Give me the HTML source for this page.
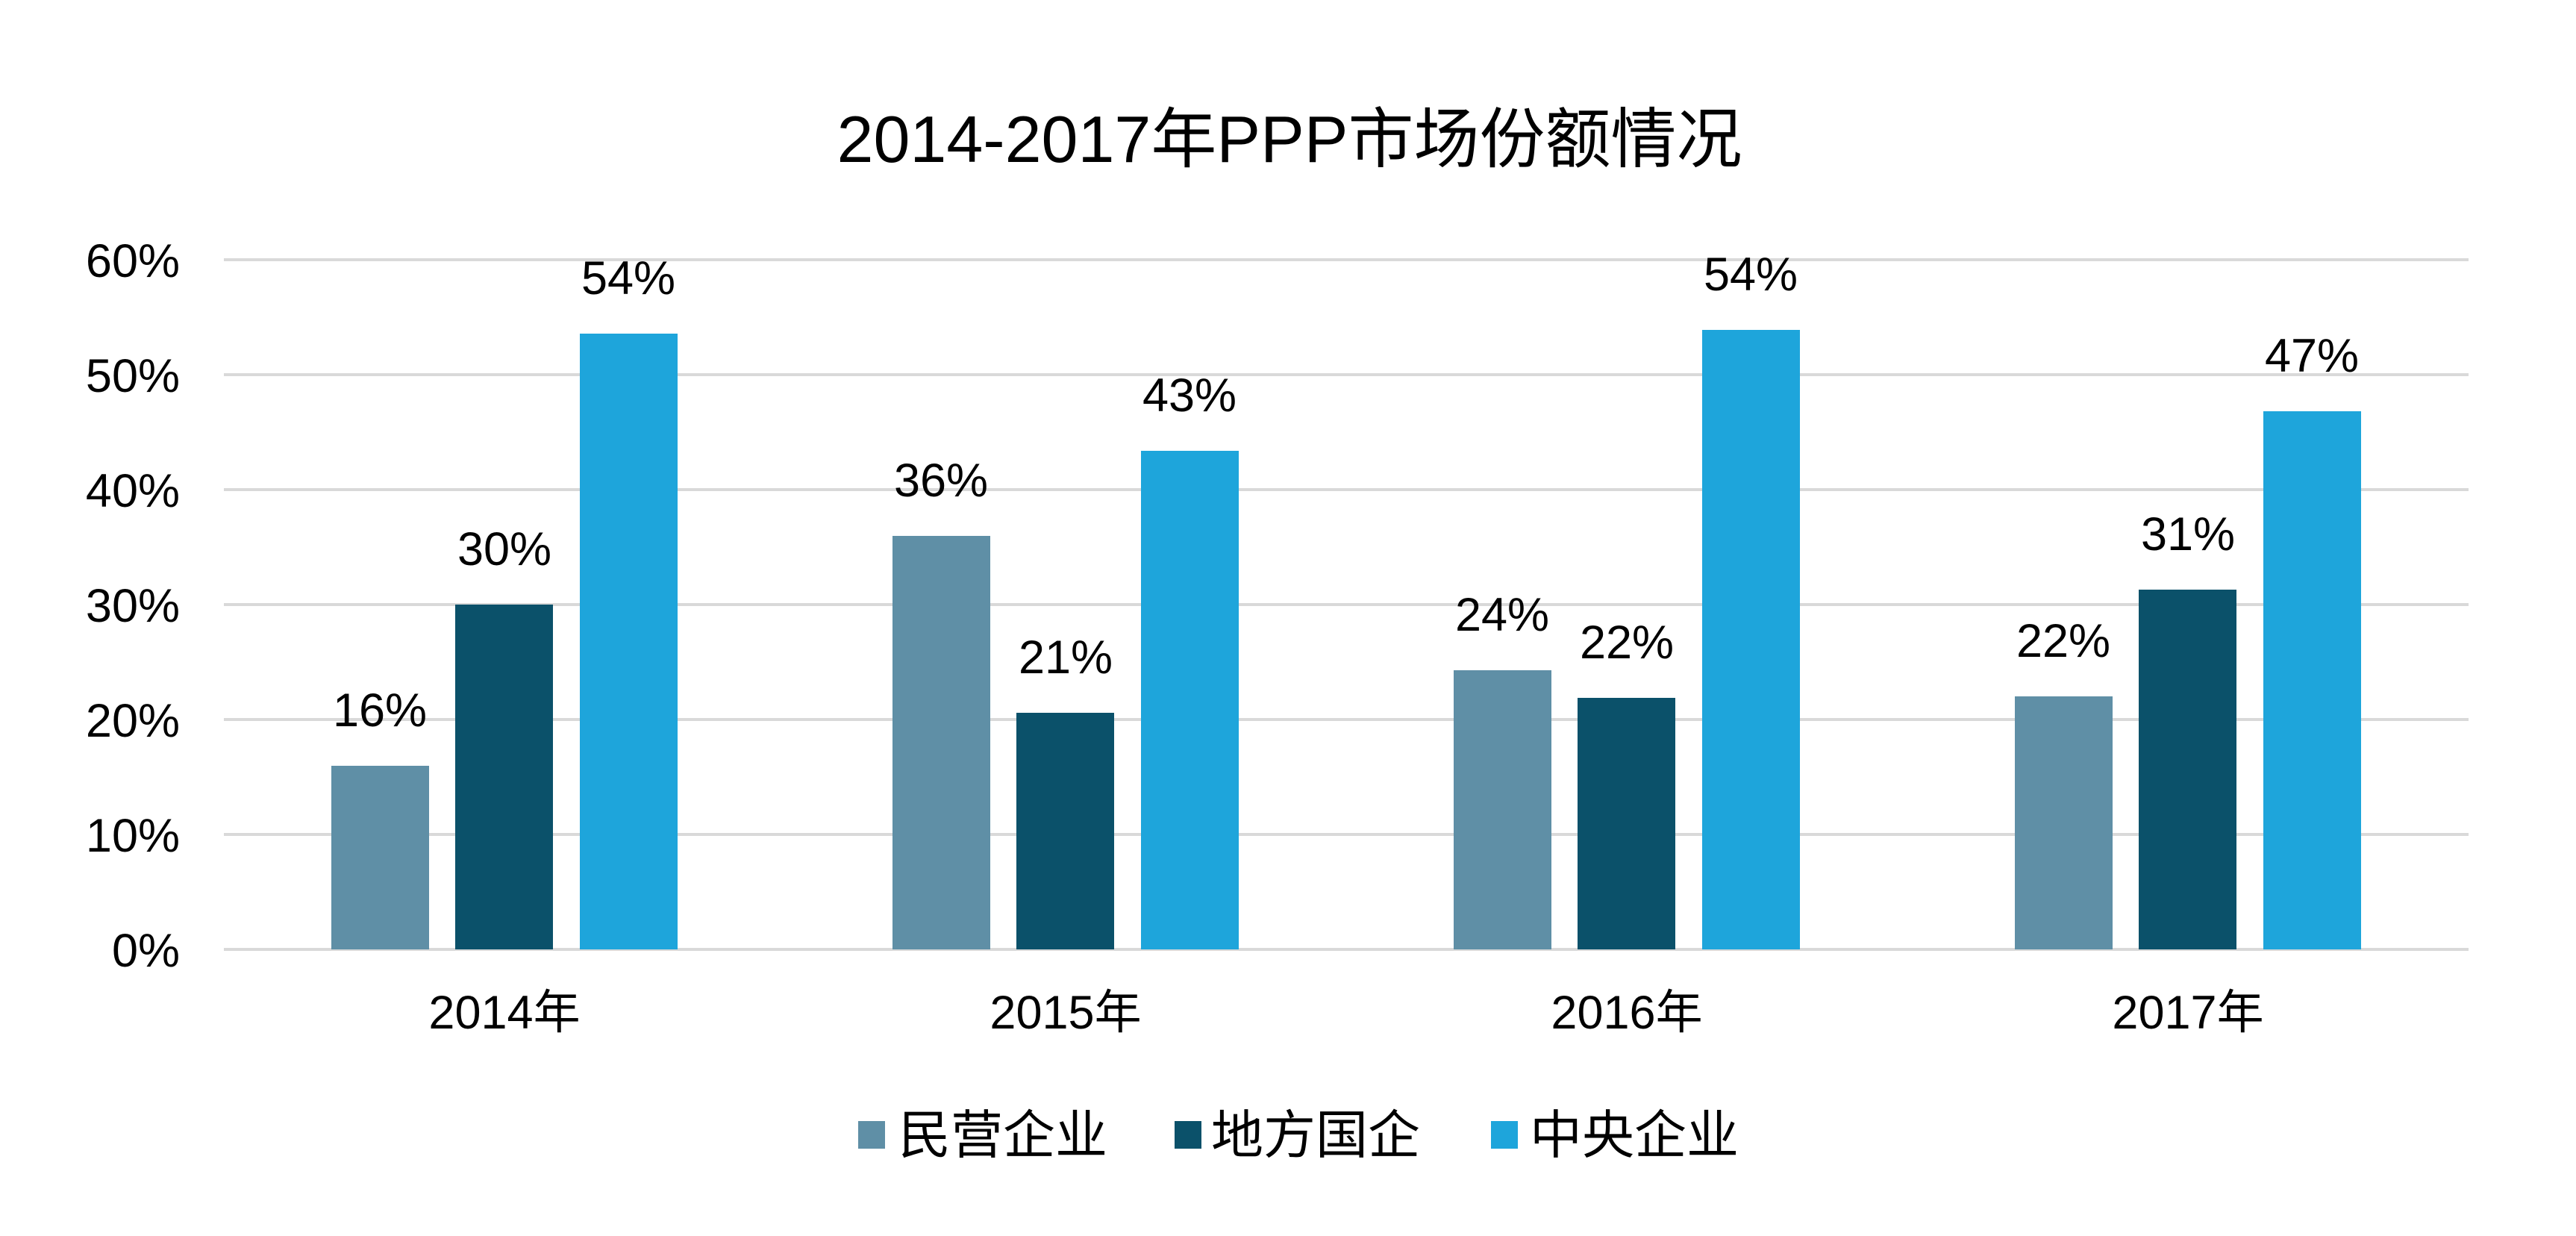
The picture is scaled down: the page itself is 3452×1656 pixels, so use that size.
<!DOCTYPE html>
<html><head><meta charset="utf-8"><style>
html,body{margin:0;padding:0;background:#fff;}
svg{display:block;}
text{font-family:"Liberation Sans","Noto Sans CJK SC",sans-serif;fill:#000;}
</style></head><body>
<svg width="3452" height="1656" viewBox="0 0 3452 1656" xmlns="http://www.w3.org/2000/svg">
<rect width="3452" height="1656" fill="#fff"/>
<text x="1728" y="217" font-size="88" text-anchor="middle">2014-2017年PPP市场份额情况</text>
<g stroke="#d9d9d9" stroke-width="4">
<line x1="300" x2="3308" y1="348" y2="348"/>
<line x1="300" x2="3308" y1="502" y2="502"/>
<line x1="300" x2="3308" y1="656" y2="656"/>
<line x1="300" x2="3308" y1="810" y2="810"/>
<line x1="300" x2="3308" y1="964" y2="964"/>
<line x1="300" x2="3308" y1="1118" y2="1118"/>
<line x1="300" x2="3308" y1="1272" y2="1272"/>
</g>
<g font-size="63" text-anchor="end">
<text x="241" y="371">60%</text>
<text x="241" y="525">50%</text>
<text x="241" y="679">40%</text>
<text x="241" y="833">30%</text>
<text x="241" y="987">20%</text>
<text x="241" y="1141">10%</text>
<text x="241" y="1295">0%</text>
</g>
<g>
<rect x="444" y="1026" width="131" height="246" fill="#5f8fa6"/>
<rect x="610" y="810" width="131" height="462" fill="#0b516a"/>
<rect x="777" y="447" width="131" height="825" fill="#1ea5db"/>
<rect x="1196" y="718" width="131" height="554" fill="#5f8fa6"/>
<rect x="1362" y="955" width="131" height="317" fill="#0b516a"/>
<rect x="1529" y="604" width="131" height="668" fill="#1ea5db"/>
<rect x="1948" y="898" width="131" height="374" fill="#5f8fa6"/>
<rect x="2114" y="935" width="131" height="337" fill="#0b516a"/>
<rect x="2281" y="442" width="131" height="830" fill="#1ea5db"/>
<rect x="2700" y="933" width="131" height="339" fill="#5f8fa6"/>
<rect x="2866" y="790" width="131" height="482" fill="#0b516a"/>
<rect x="3033" y="551" width="131" height="721" fill="#1ea5db"/>
</g>
<g font-size="63" text-anchor="middle">
<text x="509" y="973">16%</text>
<text x="676" y="757">30%</text>
<text x="842" y="394">54%</text>
<text x="1261" y="665">36%</text>
<text x="1428" y="902">21%</text>
<text x="1594" y="551">43%</text>
<text x="2013" y="845">24%</text>
<text x="2180" y="882">22%</text>
<text x="2346" y="389">54%</text>
<text x="2765" y="880">22%</text>
<text x="2932" y="737">31%</text>
<text x="3098" y="498">47%</text>
</g>
<g font-size="63" text-anchor="middle">
<text x="676" y="1378">2014年</text>
<text x="1428" y="1378">2015年</text>
<text x="2180" y="1378">2016年</text>
<text x="2932" y="1378">2017年</text>
</g>
<rect x="1150" y="1502" width="36" height="37" fill="#5f8fa6"/>
<rect x="1574" y="1502" width="36" height="37" fill="#0b516a"/>
<rect x="1998" y="1502" width="36" height="37" fill="#1ea5db"/>
<g font-size="70">
<text x="1204" y="1545">民营企业</text>
<text x="1623" y="1545">地方国企</text>
<text x="2050" y="1545">中央企业</text>
</g>
</svg>
</body></html>
